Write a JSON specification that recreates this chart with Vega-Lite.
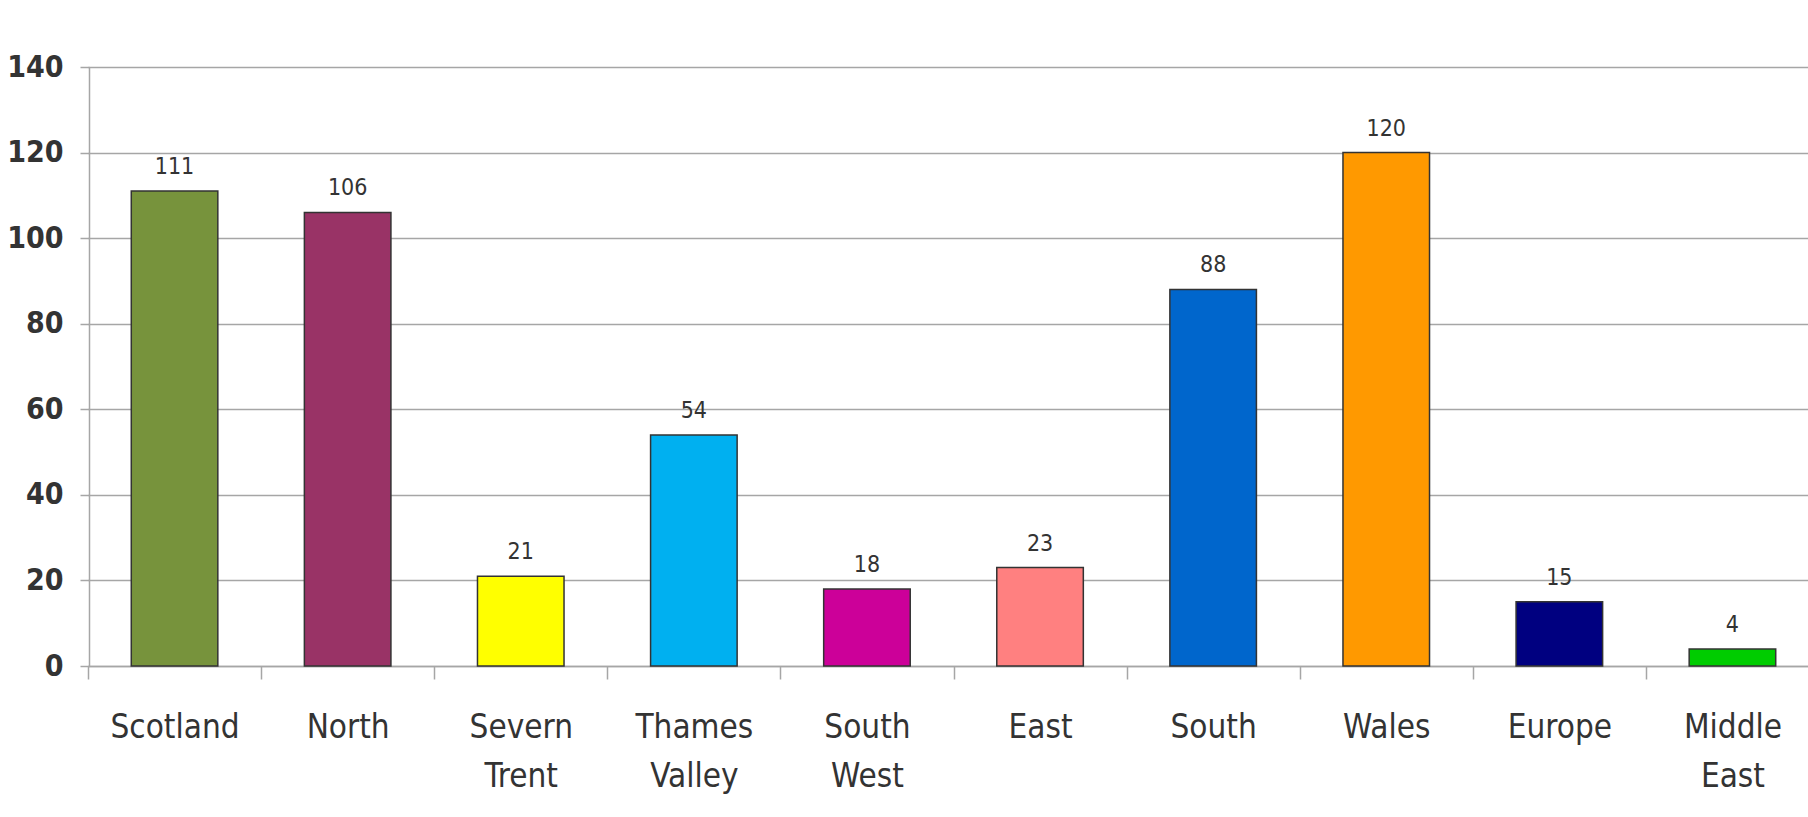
{
  "$schema": "https://vega.github.io/schema/vega-lite/v6.json",
  "autosize": {"type": "none"},
  "width": 1719,
  "height": 599,
  "padding": {"left": 89, "top": 67, "right": 0, "bottom": 151},
  "background": "white",
  "config": {"view": {"stroke": null}},
  "data": {"values": [
    {"region": "Scotland", "value": 111, "color": "#77933C"},
    {"region": "North", "value": 106, "color": "#993366"},
    {"region": "Severn Trent", "value": 21, "color": "#FFFF00"},
    {"region": "Thames Valley", "value": 54, "color": "#00B0F0"},
    {"region": "South West", "value": 18, "color": "#CC0099"},
    {"region": "East", "value": 23, "color": "#FF8080"},
    {"region": "South", "value": 88, "color": "#0066CC"},
    {"region": "Wales", "value": 120, "color": "#FF9900"},
    {"region": "Europe", "value": 15, "color": "#000080"},
    {"region": "Middle East", "value": 4, "color": "#00CC00"}
  ]},
  "encoding": {
    "x": {
      "field": "region", "type": "nominal", "sort": null,
      "scale": {"range": [-1, 1730], "paddingInner": 0, "paddingOuter": 0},
      "axis": {
        "title": null, "labelAngle": 0, "tickBand": "extent",
        "labelExpr": "split(datum.label, ' ')",
        "labelFont": "DejaVu Sans Condensed", "labelFontSize": 33, "labelColor": "#333333",
        "labelLineHeight": 49, "labelPadding": 32,
        "tickSize": 13, "tickColor": "#a6a6a6", "tickWidth": 1.5,
        "domainColor": "#a6a6a6", "domainWidth": 1.5, "grid": false
      }
    },
    "y": {
      "field": "value", "type": "quantitative",
      "scale": {"domain": [0, 140], "nice": false},
      "axis": {
        "title": null, "values": [0, 20, 40, 60, 80, 100, 120, 140],
        "labelFont": "DejaVu Sans Condensed", "labelFontSize": 30, "labelFontWeight": "bold",
        "labelColor": "#333333", "labelPadding": 17,
        "tickSize": 9, "tickColor": "#a6a6a6", "tickWidth": 1.5,
        "domainColor": "#a6a6a6", "domainWidth": 1.5,
        "grid": true, "gridColor": "#a6a6a6", "gridWidth": 1.5
      }
    }
  },
  "layer": [
    {
      "mark": {"type": "bar", "width": {"band": 0.5}, "stroke": "#333333", "strokeWidth": 1.5},
      "encoding": {"color": {"field": "color", "type": "nominal", "scale": null, "legend": null}}
    },
    {
      "mark": {"type": "text", "baseline": "alphabetic", "dy": -17, "fontSize": 23, "color": "#333333", "font": "DejaVu Sans Condensed"},
      "encoding": {"text": {"field": "value", "type": "quantitative"}}
    }
  ]
}
